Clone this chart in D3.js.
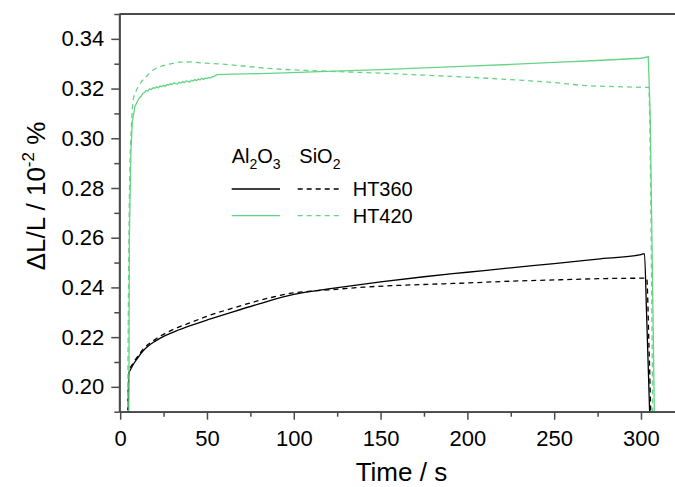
<!DOCTYPE html>
<html>
<head>
<meta charset="utf-8">
<script src="https://cdn.jsdelivr.net/npm/d3@7"></script>
<style>
  body { margin: 0; background: #fff; }
  svg { display: block; font-family: "Liberation Sans", Arial, sans-serif; }
</style>
</head>
<body>
<svg id="chart" width="675" height="487"></svg>
<script>
// [time (s), dL/L (10^-2 %)]
const al2o3HT360 = [
  [4.6, 0.186], [5.0, 0.2055], [6, 0.2070], [8, 0.2095], [10, 0.2115], [13, 0.2143],
  [16, 0.2163], [20, 0.2183], [25, 0.2203], [32, 0.2224], [40, 0.2245], [52, 0.2273],
  [65, 0.2302], [80, 0.2334], [100, 0.2372], [110, 0.2384], [120, 0.2394], [150, 0.2422],
  [175, 0.2443], [200, 0.2461], [225, 0.2479], [250, 0.2496], [275, 0.2514], [300, 0.2532],
  [302, 0.2536], [303.2, 0.2300], [305.2, 0.185]
];
const sio2HT360 = [
  [4.4, 0.186], [4.7, 0.2000], [5.2, 0.2065], [7, 0.2090], [10, 0.2122], [13, 0.2150],
  [20, 0.2190], [30, 0.2229], [40, 0.2257], [50, 0.2284], [65, 0.2317], [80, 0.2347],
  [100, 0.2378], [110, 0.2385], [120, 0.2390], [140, 0.2401], [160, 0.2408], [180, 0.2413],
  [200, 0.2418], [225, 0.2425], [250, 0.2430], [275, 0.2435], [300, 0.2437], [303.3, 0.2437],
  [304.6, 0.2165], [305.8, 0.185]
];
const al2o3HT420 = [
  [5.0, 0.185], [5.3, 0.2600], [6.2, 0.2950], [7, 0.3067], [8.5, 0.3127], [10, 0.3150],
  [11, 0.3162], [12, 0.3168], [13, 0.3180], [14, 0.3184], [15, 0.3192], [16, 0.3190],
  [17, 0.3199], [18, 0.3196], [19, 0.3203], [20, 0.3201], [21, 0.3207], [22, 0.3203],
  [23, 0.3210], [24, 0.3208], [25, 0.3213], [26, 0.3209], [27, 0.3216], [28, 0.3214],
  [29, 0.3219], [30, 0.3216], [31, 0.3223], [32, 0.3220], [33, 0.3218], [34, 0.3225],
  [35, 0.3222], [36, 0.3228], [37, 0.3224], [38, 0.3231], [39, 0.3229], [40, 0.3226],
  [41, 0.3233], [42, 0.3230], [43, 0.3236], [44, 0.3232], [45, 0.3238], [46, 0.3235],
  [47, 0.3241], [48, 0.3237], [49, 0.3242], [50, 0.3240], [51, 0.3245], [52, 0.3242],
  [53, 0.3247], [54, 0.3249], [55, 0.3253], [56, 0.3256], [65, 0.3258], [80, 0.3260],
  [95, 0.3263], [115, 0.3268], [150, 0.3276], [175, 0.3283], [200, 0.3290], [225, 0.3297],
  [250, 0.3305], [275, 0.3313], [300, 0.3322], [304.2, 0.3328], [305.3, 0.3100],
  [306.5, 0.2500], [307.8, 0.185]
];
const sio2HT420 = [
  [4.3, 0.185], [4.8, 0.2400], [5.5, 0.2850], [6.5, 0.3050], [7.5, 0.3154], [9.5, 0.3195],
  [12, 0.3225], [15, 0.3248], [19, 0.3275], [23, 0.3288], [28.7, 0.3299], [34, 0.3306],
  [40, 0.3307], [48, 0.3303], [57.5, 0.3299], [69, 0.3292], [84, 0.3282], [100, 0.3275],
  [115, 0.3271], [130, 0.3267], [150, 0.3262], [175, 0.3254], [200, 0.3246], [225, 0.3236],
  [250, 0.3224], [268, 0.3212], [285, 0.3208], [303.3, 0.3205], [304.5, 0.3205],
  [305.2, 0.3000], [306, 0.2500], [306.8, 0.185]
];

const xMajor = [0, 50, 100, 150, 200, 250, 300];
const xMinor = [25, 75, 125, 175, 225, 275];
const yMajor = [0.20, 0.22, 0.24, 0.26, 0.28, 0.30, 0.32, 0.34];
const yMinor = [0.19, 0.21, 0.23, 0.25, 0.27, 0.29, 0.31, 0.33, 0.35];

(function () {
  const black = "#000000", green = "#66d485";
  const series = [
    { data: al2o3HT360, color: black, dash: null, smooth: true },
    { data: sio2HT360, color: black, dash: "5,4", smooth: true },
    { data: al2o3HT420, color: green, dash: null, smooth: false },
    { data: sio2HT420, color: green, dash: "5,4", smooth: true }
  ];

  const svg = d3.select("#chart");
  const plotLeft = 119.3, plotTop = 14, plotBottom = 411.7, plotRight = 675.7;
  const axisColor = "#4a4a4a";

  const x = d3.scaleLinear().domain([-0.5, 320]).range([plotLeft, plotRight]);
  const y = d3.scaleLinear().domain([0.19, 0.35]).range([plotBottom, plotTop]);

  svg.append("clipPath").attr("id", "plot-clip")
    .append("rect")
    .attr("x", plotLeft).attr("y", plotTop)
    .attr("width", plotRight - plotLeft).attr("height", plotBottom - plotTop);

  // lines
  const smoothLine = d3.line().x(d => x(d[0])).y(d => y(d[1])).curve(d3.curveMonotoneX);
  const rawLine = d3.line().x(d => x(d[0])).y(d => y(d[1]));
  svg.append("g").attr("clip-path", "url(#plot-clip)")
    .selectAll("path")
    .data(series)
    .enter().append("path")
    .attr("d", d => (d.smooth ? smoothLine : rawLine)(d.data))
    .attr("fill", "none")
    .attr("stroke", d => d.color)
    .attr("stroke-width", 1.3)
    .attr("stroke-dasharray", d => d.dash);

  // axes
  function styleAxis(g) {
    g.attr("font-family", null).attr("font-size", null);
    g.selectAll(".domain").attr("stroke", axisColor).attr("stroke-width", 1.8);
    g.selectAll(".tick line").attr("stroke", axisColor).attr("stroke-width", 1.5);
    g.selectAll(".tick text").attr("fill", "#000").style("font-size", "22px");
  }

  svg.append("g")
    .attr("transform", `translate(0,${plotBottom})`)
    .call(d3.axisBottom(x).tickValues(xMinor).tickSize(5).tickSizeOuter(0).tickFormat(""))
    .call(styleAxis);
  svg.append("g")
    .attr("transform", `translate(0,${plotBottom})`)
    .call(d3.axisBottom(x).tickValues(xMajor).tickSize(8).tickSizeOuter(0).tickPadding(11))
    .call(styleAxis);

  svg.append("g")
    .attr("transform", `translate(${plotLeft},0)`)
    .call(d3.axisLeft(y).tickValues(yMinor).tickSize(5).tickSizeOuter(0).tickFormat(""))
    .call(styleAxis);
  svg.append("g")
    .attr("transform", `translate(${plotLeft},0)`)
    .call(d3.axisLeft(y).tickValues(yMajor).tickSize(8).tickSizeOuter(0).tickPadding(7)
      .tickFormat(d3.format(".2f")))
    .call(styleAxis);

  // top frame line
  svg.append("line")
    .attr("x1", plotLeft).attr("x2", plotRight)
    .attr("y1", plotTop).attr("y2", plotTop)
    .attr("stroke", axisColor).attr("stroke-width", 1.8);

  // axis titles
  svg.append("text")
    .attr("x", 401.4).attr("y", 481)
    .attr("text-anchor", "middle")
    .style("font-size", "26px")
    .text("Time / s");

  const yTitle = svg.append("text")
    .attr("transform", "translate(45,196) rotate(-90)")
    .attr("text-anchor", "middle")
    .style("font-size", "26px");
  yTitle.append("tspan").text("\u0394L/L / 10");
  yTitle.append("tspan").attr("dy", -11).style("font-size", "17px").text("-2");
  yTitle.append("tspan").attr("dy", 11).text(" %");

  // legend
  const legendFont = "20px";
  function chem(xPos, yPos, parts) {
    const t = svg.append("text").attr("x", xPos).attr("y", yPos).style("font-size", legendFont);
    let shift = 0;
    parts.forEach(p => {
      const sub = /^\d+$/.test(p);
      const dy = sub ? 6 - shift : -shift;
      t.append("tspan").attr("dy", dy).style("font-size", sub ? "14px" : legendFont).text(p);
      shift = sub ? 6 : 0;
    });
  }
  chem(231.7, 163.3, ["Al", "2", "O", "3"]);
  chem(299.3, 163.3, ["SiO", "2"]);

  const legendRows = [
    { label: "HT360", color: black, y: 189 },
    { label: "HT420", color: green, y: 215.7 }
  ];
  legendRows.forEach(r => {
    svg.append("line")
      .attr("x1", 231.7).attr("x2", 280).attr("y1", r.y).attr("y2", r.y)
      .attr("stroke", r.color).attr("stroke-width", 1.3);
    svg.append("line")
      .attr("x1", 297.7).attr("x2", 342).attr("y1", r.y).attr("y2", r.y)
      .attr("stroke", r.color).attr("stroke-width", 1.3).attr("stroke-dasharray", "5,4");
    svg.append("text")
      .attr("x", 352.7).attr("y", r.y + 7)
      .style("font-size", legendFont)
      .text(r.label);
  });
})();
</script>
</body>
</html>
